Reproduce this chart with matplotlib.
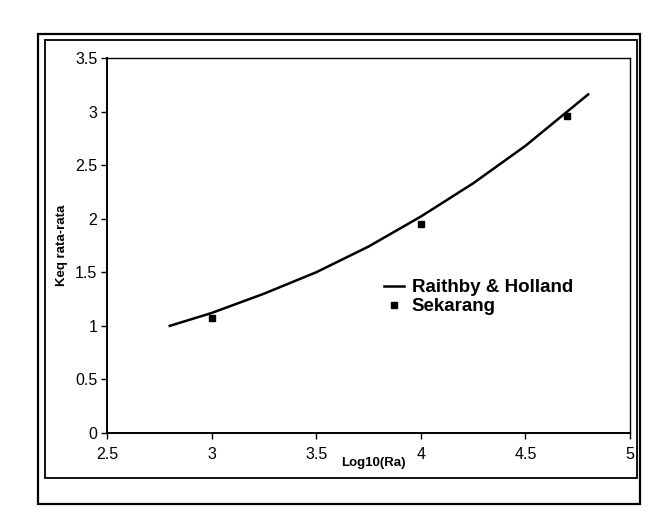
import matplotlib
matplotlib.use('Agg')
import matplotlib.pyplot as plt
from matplotlib.patches import Rectangle

plt.rcParams['font.family'] = ['Liberation Sans', 'DejaVu Sans']

# Raithby & Holland correlation
rh_x = [2.8, 3.0, 3.25, 3.5, 3.75, 4.0, 4.25, 4.5, 4.8]
rh_y = [1.00, 1.12, 1.30, 1.50, 1.74, 2.02, 2.33, 2.68, 3.16]

# measured values
sek_x = [3.0, 4.0, 4.7]
sek_y = [1.07, 1.95, 2.96]

x_ticks = [2.5, 3, 3.5, 4, 4.5, 5]
x_labels = ['2.5', '3', '3.5', '4', '4.5', '5']
y_ticks = [0, 0.5, 1, 1.5, 2, 2.5, 3, 3.5]
y_labels = ['0', '0.5', '1', '1.5', '2', '2.5', '3', '3.5']

W, H = 671, 530
fig = plt.figure(figsize=(W / 100, H / 100), dpi=100)

# scanned double frame around the chart
fig.patches.append(Rectangle((38 / W, 1 - 504 / H), (640 - 38) / W, (504 - 34) / H,
                             transform=fig.transFigure, fill=False, lw=1.6, ec='black'))
fig.patches.append(Rectangle((45 / W, 1 - 478 / H), (637 - 45) / W, (478 - 40) / H,
                             transform=fig.transFigure, fill=False, lw=1.3, ec='black'))

ax = fig.add_axes([107 / W, 1 - 433 / H, (630 - 107) / W, (433 - 58) / H])
ax.plot(rh_x, rh_y, color='black', lw=1.8, label='Raithby & Holland')
ax.plot(sek_x, sek_y, ls='none', marker='s', ms=4.5, color='black', label='Sekarang')

ax.set_xlim(2.5, 5)
ax.set_ylim(0, 3.5)
ax.set_xticks(x_ticks)
ax.set_xticklabels(x_labels)
ax.set_yticks(y_ticks)
ax.set_yticklabels(y_labels)
ax.tick_params(axis='both', direction='out', length=4, width=1, labelsize=11.5, pad=3)
ax.tick_params(axis='x', pad=6)

for s in ['left', 'bottom']:
    ax.spines[s].set_linewidth(1.4)
for s in ['top', 'right']:
    ax.spines[s].set_linewidth(1.0)

ax.set_xlabel('Log10(Ra)', fontsize=9.5, fontweight='bold')
ax.xaxis.set_label_coords(0.51, -0.065)
ax.set_ylabel('Keq rata-rata', fontsize=9.5, fontweight='bold')
ax.yaxis.set_label_coords(-0.075, 0.5)

leg = ax.legend(loc='upper left', bbox_to_anchor=(0.515, 0.43), frameon=False,
                prop={'weight': 'bold', 'size': 13.5}, handlelength=1.1,
                handletextpad=0.4, labelspacing=0.1, borderaxespad=0)

fig.savefig('out.png', dpi=100)
